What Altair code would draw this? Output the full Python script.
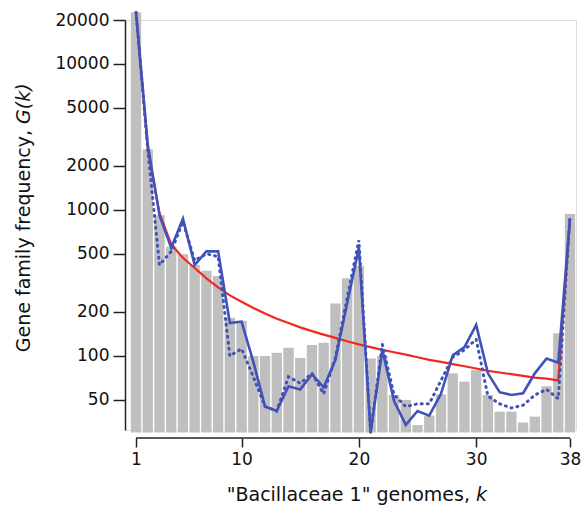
import altair as alt
import pandas as pd

# ---- data ----
k = list(range(1, 39))
bars = [22600, 2600, 920, 560, 497, 420, 384, 353, 183, 174,
        100, 100, 105, 114, 97, 119, 123, 229, 340, 415,
        96, 100, 54, 50, 33.6, 39, 54.5, 76, 66.7, 80,
        54, 41.5, 41.5, 35, 38.4, 62, 143, 938]
solid = [22600, 2800, 920, 550, 870, 420, 520, 520, 168, 172,
         91, 45, 42, 62, 59, 75, 61, 94, 230, 550,
         30, 110, 49, 33.7, 42, 39, 55, 101, 115, 163,
         76, 56.5, 54, 55.5, 76, 96, 90, 880]
dotted = [22600, 2600, 420, 520, 830, 450, 500, 480, 100, 112,
          72, 45, 42, 72, 65, 76, 55, 98, 250, 620,
          30, 120, 54, 45, 47, 47, 68, 98, 110, 130,
          53, 47, 44, 46, 54, 59, 51, 920]
red = [22600, 2600, 950, 580, 470, 400, 340, 295, 260, 235,
       213, 195, 180, 168, 157, 148, 140, 133, 126, 120,
       115, 110, 106, 102, 98, 94, 91, 88, 85, 82,
       79, 77, 75, 73, 71, 70, 68, 850]

y_ticks = [50, 100, 200, 500, 1000, 2000, 5000, 10000, 20000]
x_ticks = [1, 10, 20, 30, 38]
x_title = '"Bacillaceae 1" genomes,'
x_title_it = "k"
y_title = "Gene family frequency,"
y_title_it = "G(k)"

W, H = 451, 410
FONT = "DejaVu Sans"
BLUE = "#4052b8"
RED = "#f2281c"
GREY = "#bfbfbf"
HALF = 0.44  # half bar width in k units

df = pd.DataFrame({"k": k, "bars": bars, "solid": solid,
                   "dotted": dotted, "red": red})

xscale = alt.Scale(domain=[0.06, 38.51], nice=False, zero=False)
yscale = alt.Scale(type="log", domain=[31.1, 20000], nice=False)

xaxis = alt.Axis(values=x_ticks, domain=False, offset=8, tickSize=9,
                 tickWidth=1.5, tickColor="#222", labelFontSize=17,
                 labelFont=FONT, labelColor="#111", labelPadding=4,
                 grid=False, title=None, labelFlush=False)
yaxis = alt.Axis(values=y_ticks, format="d", tickSize=12, tickWidth=1.5,
                 tickColor="#222", domainColor="#222", domainWidth=1.5,
                 labelFontSize=17, labelFont=FONT, labelColor="#111",
                 labelPadding=4, grid=False, title=None)

X = alt.X("k:Q", scale=xscale, axis=xaxis)

base = alt.Chart(df)

bar = base.transform_calculate(
    x0=f"datum.k - {HALF}", x1=f"datum.k + {HALF}"
).mark_bar(color=GREY).encode(
    x=alt.X("x0:Q", scale=xscale, axis=xaxis),
    x2="x1:Q",
    y=alt.Y("bars:Q", scale=yscale, axis=yaxis),
    y2=alt.value(H + 2.5),
)

red_line = base.mark_line(color=RED, strokeWidth=2.2).encode(
    x=X, y=alt.Y("red:Q", scale=yscale, axis=yaxis))

dot_line = base.mark_line(color=BLUE, strokeWidth=3, strokeDash=[1, 5],
                          strokeCap="round").encode(
    x=X, y=alt.Y("dotted:Q", scale=yscale, axis=yaxis))

solid_line = base.mark_line(color=BLUE, strokeWidth=2.6).encode(
    x=X, y=alt.Y("solid:Q", scale=yscale, axis=yaxis))

one = alt.Chart(pd.DataFrame({"a": [0]}))

x_rule = one.mark_rule(color="#222", strokeWidth=1.5).encode(
    x=alt.X(datum=1, scale=xscale, axis=xaxis),
    x2=alt.X2(datum=38),
    y=alt.value(H + 8),
)

TS = 19
xt1 = one.mark_text(text=x_title, font=FONT, fontSize=TS, align="right",
                    baseline="alphabetic", color="#111").encode(
    x=alt.value(345), y=alt.value(481))
xt2 = one.mark_text(text=x_title_it, font=FONT, fontSize=TS, fontStyle="italic",
                    align="left", baseline="alphabetic", color="#111").encode(
    x=alt.value(351), y=alt.value(481))
yt1 = one.mark_text(text=y_title, font=FONT, fontSize=TS, align="right",
                    baseline="alphabetic", angle=270, color="#111").encode(
    x=alt.value(-95), y=alt.value(110))
yt2 = one.mark_text(text=y_title_it, font=FONT, fontSize=TS, fontStyle="italic",
                    align="left", baseline="alphabetic", angle=270,
                    color="#111").encode(
    x=alt.value(-95), y=alt.value(104))

chart = alt.layer(bar, red_line, dot_line, solid_line, x_rule,
                  xt1, xt2, yt1, yt2).properties(
    width=W, height=H,
    autosize=alt.AutoSizeParams(type="none"),
    padding={"left": 125, "top": 20, "right": 9, "bottom": 78},
).configure_view(stroke=None).configure(background="white")

chart.save("out.html", embed_options={"renderer": "svg", "actions": False})
